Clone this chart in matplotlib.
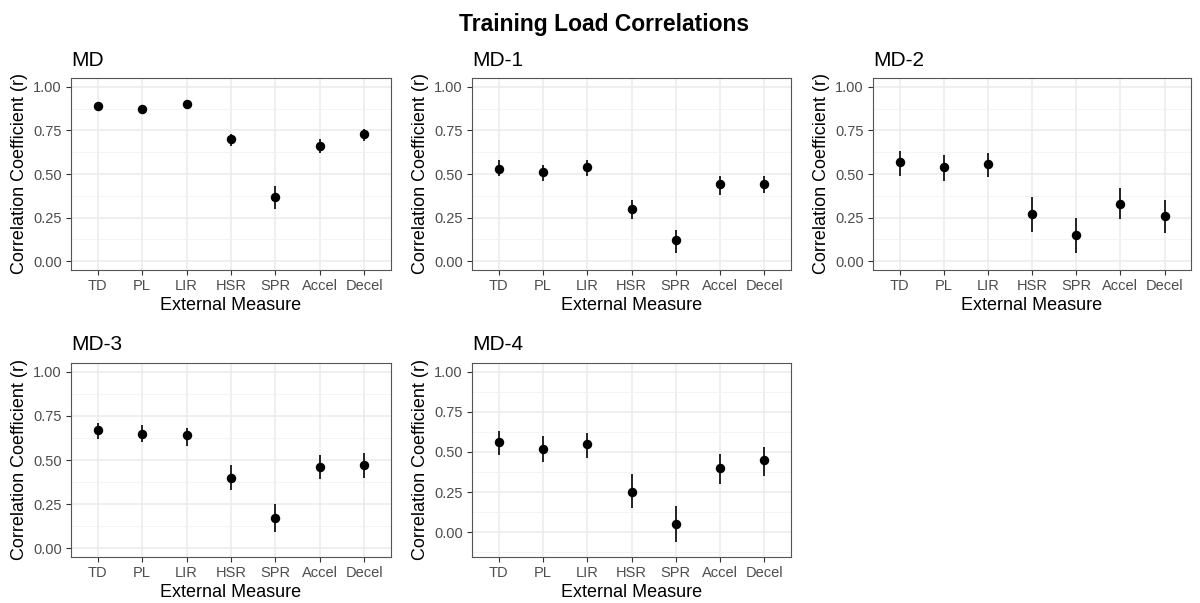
import matplotlib
matplotlib.use('Agg')
import matplotlib.pyplot as plt
import numpy as np

plt.rcParams['font.family'] = ['Liberation Sans', 'DejaVu Sans']

measures = ['TD', 'PL', 'LIR', 'HSR', 'SPR', 'Accel', 'Decel']
days = ['MD', 'MD-1', 'MD-2', 'MD-3', 'MD-4']

# correlation estimates and 95% CI bounds per match day
r_md = [0.89, 0.87, 0.90, 0.70, 0.37, 0.66, 0.73]
lo_md = [0.87, 0.85, 0.88, 0.66, 0.30, 0.62, 0.69]
hi_md = [0.91, 0.89, 0.92, 0.73, 0.43, 0.70, 0.76]

r_md1 = [0.53, 0.51, 0.54, 0.30, 0.12, 0.44, 0.44]
lo_md1 = [0.49, 0.46, 0.49, 0.24, 0.05, 0.38, 0.39]
hi_md1 = [0.58, 0.55, 0.58, 0.35, 0.18, 0.49, 0.49]

r_md2 = [0.57, 0.54, 0.56, 0.27, 0.15, 0.33, 0.26]
lo_md2 = [0.49, 0.46, 0.48, 0.17, 0.05, 0.24, 0.16]
hi_md2 = [0.63, 0.61, 0.62, 0.37, 0.25, 0.42, 0.35]

r_md3 = [0.67, 0.65, 0.64, 0.40, 0.17, 0.46, 0.47]
lo_md3 = [0.62, 0.60, 0.58, 0.33, 0.09, 0.39, 0.40]
hi_md3 = [0.71, 0.70, 0.68, 0.47, 0.25, 0.53, 0.54]

r_md4 = [0.56, 0.52, 0.55, 0.25, 0.05, 0.40, 0.45]
lo_md4 = [0.48, 0.44, 0.46, 0.15, -0.06, 0.30, 0.35]
hi_md4 = [0.63, 0.60, 0.62, 0.36, 0.16, 0.49, 0.53]

est = [r_md, r_md1, r_md2, r_md3, r_md4]
los = [lo_md, lo_md1, lo_md2, lo_md3, lo_md4]
his = [hi_md, hi_md1, hi_md2, hi_md3, hi_md4]

W, H = 1200, 603
# panel boxes in pixels: left, top, right, bottom
boxes = [(71, 78, 391, 270), (472, 78, 791, 270), (873, 78, 1191, 270),
         (71, 363, 391, 557), (472, 363, 791, 557)]
ylims = [(0, 1), (0, 1), (0, 1), (0, 1), (-0.1, 1)]

fig = plt.figure(figsize=(12, 6.03), dpi=100)
fig.patch.set_facecolor('white')
fig.text(604 / W, 1 - 25 / H, 'Training Load Correlations', ha='center', va='center',
         fontsize=16.5, fontweight='bold', color='black')

for i, day in enumerate(days):
    l, t, r, b = boxes[i]
    ax = fig.add_axes([l / W, 1 - b / H, (r - l) / W, (b - t) / H])
    x = np.arange(1, len(measures) + 1)
    y = np.array(est[i])
    lo = np.array(los[i]); hi = np.array(his[i])
    ax.vlines(x, lo, hi, color='black', lw=1.2, zorder=3)
    ax.plot(x, y, 'o', color='black', ms=5.8, zorder=4)
    y0, y1 = ylims[i]
    pad = 0.05 * (y1 - y0)
    ax.set_ylim(y0 - pad, y1 + pad)
    ax.set_xlim(0.4, 7.6)
    ax.set_xticks(x)
    ax.set_xticklabels(measures)
    ax.set_yticks([0, 0.25, 0.5, 0.75, 1.0])
    ax.set_yticklabels(['0.00', '0.25', '0.50', '0.75', '1.00'])
    minor = [m for m in [-0.125, 0.125, 0.375, 0.625, 0.875] if y0 - pad < m < y1 + pad]
    ax.set_yticks(minor, minor=True)
    ax.grid(True, which='major', color='#EBEBEB', lw=1.1, zorder=0)
    ax.grid(True, which='minor', axis='y', color='#F2F2F2', lw=0.6, zorder=0)
    ax.set_axisbelow(True)
    ax.tick_params(which='minor', length=0)
    ax.tick_params(which='major', length=3.5, width=0.8, color='#333333',
                   labelsize=10.5, labelcolor='#4D4D4D', pad=3)
    for s in ax.spines.values():
        s.set_color('#555555'); s.set_linewidth(0.8)
    ax.set_xlabel('External Measure', fontsize=13, color='black', labelpad=3)
    ax.set_ylabel('Correlation Coefficient (r)', fontsize=13, color='black', labelpad=4)
    ax.set_title(day, loc='left', fontsize=15, color='black', pad=9)

plt.savefig('out.png', dpi=100, facecolor='white')
plt.close()
